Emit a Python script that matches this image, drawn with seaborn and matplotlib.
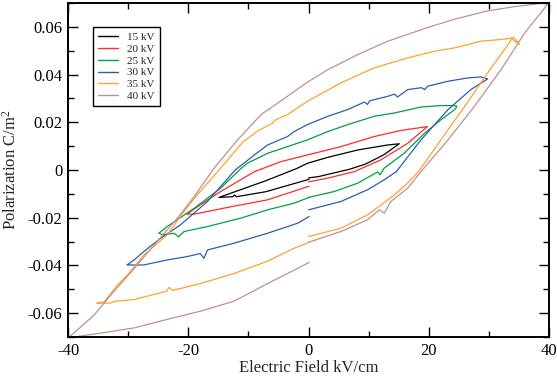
import numpy as np
import pandas as pd
import matplotlib
matplotlib.use("Agg")
import matplotlib.pyplot as plt
from matplotlib.ticker import MultipleLocator, FuncFormatter
import seaborn as sns

# ---- data: E (kV/cm), P (C/m^2), in measurement order ----
labels = ["15 kV", "20 kV", "25 kV", "30 kV", "35 kV", "40 kV"]

E_15 = [0, 1.6, 6.8, 9.5, 12.6, 15.1,
        13.2, 8.2, 3.2, -0.2, -1.8, -7.1, -14.9,
        -12.6, -12.3, -12.0, -7.1, 0.1]
P_15 = [-0.0033, -0.0028, 0.0003, 0.0025, 0.0065, 0.0110,
        0.0105, 0.0084, 0.0053, 0.0028, 0.0008, -0.0045, -0.0115,
        -0.0112, -0.0105, -0.0112, -0.0091, -0.0039]

E_20 = [0, 3.2, 7.6, 12.0, 16.5, 19.8,
        15.4, 10.9, 5.4, -0.2, -4.6, -9.0, -14.6, -18.0, -20.2,
        -19.0, -13.5, -6.8, 0.1]
P_20 = [-0.0050, -0.0034, -0.0007, 0.0042, 0.0112, 0.0182,
        0.0166, 0.0140, 0.0098, 0.0063, 0.0035, -0.0007, -0.0090, -0.0146, -0.0185,
        -0.0185, -0.0157, -0.0125, -0.0068]

E_25 = [0, 4.3, 8.2, 11.5, 11.9, 12.6, 15.9, 19.3, 22.0, 24.3, 24.7,
        24.3, 22.0, 18.7, 14.3, 10.9, 6.5, 3.2, -0.2, -3.5, -6.8, -10.2, -11.5,
        -14.6, -19.0, -23.5, -24.9,
        -24.1, -22.4, -21.6, -20.7, -16.8, -11.3, -6.8, -2.4, 0.1]
P_25 = [-0.0115, -0.0090, -0.0055, -0.0008, -0.0020, 0.0008, 0.0070, 0.0154, 0.0210, 0.0253, 0.0267,
        0.0270, 0.0270, 0.0264, 0.0239, 0.0225, 0.0190, 0.0161, 0.0126, 0.0098, 0.0070, 0.0028, 0.0000,
        -0.0076, -0.0160, -0.0237, -0.0265,
        -0.0272, -0.0265, -0.0280, -0.0258, -0.0237, -0.0202, -0.0167, -0.0139, -0.0115]

E_30 = [0, 5.4, 9.8, 12.6, 14.6, 18.7, 23.2, 27.0, 29.8,
        28.7, 26.5, 23.2, 19.8, 19.3, 18.8, 16.5, 14.8, 14.3, 13.2, 10.2, 9.8, 9.3,
        6.5, 3.2, -0.2, -2.4, -3.5, -6.8, -9.0, -12.2, -16.8, -21.3, -24.6, -27.4,
        -29.0, -30.2,
        -27.4, -23.5, -20.2, -18.0, -17.4, -16.8, -12.4, -6.8, -1.8, 0.1]
P_30 = [-0.0167, -0.0132, -0.0083, -0.0041, -0.0007, 0.0126, 0.0253, 0.0337, 0.0382,
        0.0390, 0.0386, 0.0372, 0.0351, 0.0337, 0.0345, 0.0337, 0.0306, 0.0318, 0.0309, 0.0290, 0.0275, 0.0285,
        0.0253, 0.0225, 0.0190, 0.0161, 0.0140, 0.0105, 0.0063, 0.0000, -0.0132, -0.0230, -0.0286, -0.0342,
        -0.0377, -0.0398,
        -0.0398, -0.0377, -0.0363, -0.0350, -0.0370, -0.0335, -0.0307, -0.0265, -0.0223, -0.0195]

E_35 = [0, 5.4, 9.8, 11.5, 14.3, 16.5, 18.5, 22.0, 26.0, 29.8, 33.2, 33.8, 35.1,
        34.2, 32.0, 28.7, 24.3, 21.0, 16.5, 10.9, 5.4, -0.2, -3.5, -5.5, -6.0,
        -8.5, -11.0, -13.0, -14.6, -18.5, -20.9, -23.5, -27.4, -29.9, -31.8, -34.0, -35.2,
        -33.0, -32.1, -29.0, -23.6, -23.2, -22.6, -18.0, -12.4, -6.8, -2.4, 0.1]
P_35 = [-0.0279, -0.0244, -0.0188, -0.0157, -0.0104, -0.0055, 0.0000, 0.0126, 0.0267, 0.0407, 0.0526, 0.0550, 0.0526,
        0.0555, 0.0547, 0.0540, 0.0512, 0.0498, 0.0470, 0.0428, 0.0365, 0.0288, 0.0232, 0.0210, 0.0196,
        0.0163, 0.0115, 0.0055, 0.0008, -0.0104, -0.0180, -0.0272, -0.0357, -0.0434, -0.0483, -0.0553, -0.0558,
        -0.0558, -0.0550, -0.0543, -0.0508, -0.0492, -0.0505, -0.0476, -0.0434, -0.0382, -0.0328, -0.0303]

E_40 = [0, 5.4, 9.8, 11.8, 12.6, 13.7, 16.5, 18.7, 23.2, 27.6, 32.0, 36.0, 40.0,
        34.3, 29.8, 24.3, 19.8, 13.2, 8.2, 3.2, -0.2, -3.5, -7.9, -11.8, -15.7,
        -19.0, -21.8, -25.2, -29.0, -32.4, -35.7, -40.0,
        -38.2, -35.2, -29.0, -23.5, -18.0, -12.4, -6.8, -2.4, 0.1]
P_40 = [-0.0303, -0.0258, -0.0209, -0.0167, -0.0181, -0.0132, -0.0076, -0.0007, 0.0126, 0.0267, 0.0420, 0.0576, 0.0702,
        0.0685, 0.0667, 0.0632, 0.0597, 0.0540, 0.0484, 0.0420, 0.0368, 0.0309, 0.0232, 0.0126, 0.0008,
        -0.0111, -0.0202, -0.0300, -0.0413, -0.0510, -0.0609, -0.0705,
        -0.0697, -0.0686, -0.0662, -0.0626, -0.0592, -0.0550, -0.0476, -0.0420, -0.0387]

series_E = [E_15, E_20, E_25, E_30, E_35, E_40]
series_P = [P_15, P_20, P_25, P_30, P_35, P_40]
colors = ["#000000", "#ff2a2a", "#00a040", "#2a5db0", "#ffa030", "#c09090"]

x_ticks = [-40, -20, 0, 20, 40]
y_ticks = [-0.06, -0.04, -0.02, 0, 0.02, 0.04, 0.06]

rows = []
for lab, es, ps in zip(labels, series_E, series_P):
    for i, (e, p) in enumerate(zip(es, ps)):
        rows.append({"E": e, "P": p, "Voltage": lab, "idx": i})
df = pd.DataFrame(rows)

sns.set_style("ticks")
plt.rcParams["font.family"] = ["Liberation Serif", "DejaVu Serif"]
plt.rcParams["mathtext.fontset"] = "custom"
plt.rcParams["mathtext.rm"] = "Liberation Serif"
plt.rcParams["mathtext.default"] = "regular"
plt.rcParams["axes.unicode_minus"] = False

fig = plt.figure(figsize=(5.57, 3.87), dpi=100)
ax = fig.add_axes([68 / 557, 50 / 387, 481 / 557, 334 / 387])

sns.lineplot(data=df, x="E", y="P", hue="Voltage", hue_order=labels,
             palette=dict(zip(labels, colors)), sort=False, estimator=None,
             linewidth=0.9, ax=ax)

ax.set_xlim(-40, 40)
ax.set_ylim(-0.07, 0.07)
ax.set_xticks(x_ticks)
ax.set_yticks(y_ticks)
ax.xaxis.set_minor_locator(MultipleLocator(10))
ax.yaxis.set_minor_locator(MultipleLocator(0.01))
ax.xaxis.set_major_formatter(FuncFormatter(lambda v, pos: "%g" % v))
ax.yaxis.set_major_formatter(FuncFormatter(lambda v, pos: "0" if abs(v) < 1e-9 else "%g" % v))

ax.tick_params(which="both", direction="in", top=True, right=True, width=1.0,
               labelsize=12, colors="black", pad=4)
ax.tick_params(which="major", length=7)
ax.tick_params(which="minor", length=4)
for s in ax.spines.values():
    s.set_linewidth(1.4)
    s.set_color("black")

ax.set_xlabel("Electric Field kV/cm", fontsize=12, labelpad=1)
ax.set_ylabel("Polarization C/m$^2$", fontsize=12, labelpad=6)

leg = ax.legend(loc="upper left", bbox_to_anchor=(0.052, 0.928), frameon=True,
                fancybox=False, edgecolor="black", fontsize=8, handlelength=1.8,
                handletextpad=0.85, labelspacing=0.19, borderpad=0.45,
                borderaxespad=0, title=None)
leg.get_frame().set_linewidth(1.0)
leg.get_frame().set_alpha(1)
for h in leg.get_lines():
    h.set_linewidth(1.0)

fig.savefig("out.png", dpi=100)
